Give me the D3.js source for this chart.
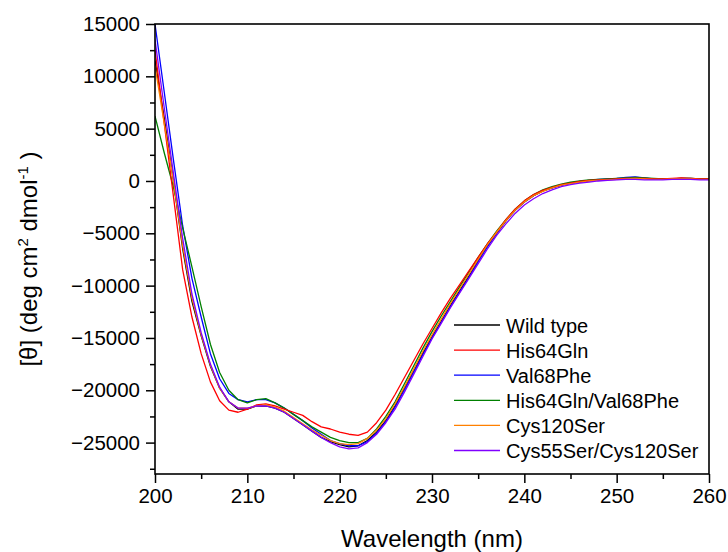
<!DOCTYPE html>
<html>
<head>
<meta charset="utf-8">
<script src="https://cdn.jsdelivr.net/npm/d3@7/dist/d3.min.js"></script>
<style>
  html, body { margin: 0; padding: 0; background: #fff; }
  svg { display: block; font-family: "Liberation Sans", Arial, sans-serif; }
</style>
</head>
<body>
<svg id="chart" width="728" height="552"></svg>
<script>
const wavelengths = [200,201,202,203,204,205,206,207,208,209,210,211,212,213,214,215,216,217,218,219,220,221,222,223,224,225,226,227,228,229,230,231,232,233,234,235,236,237,238,239,240,241,242,243,244,245,246,247,248,249,250,251,252,253,254,255,256,257,258,259,260];

const wildType = [11500,6000,0,-6500,-11500,-14800,-17700,-19800,-21100,-21800,-21800,-21500,-21500,-21700,-22100,-22700,-23300,-23900,-24500,-24900,-25200,-25400,-25300,-24800,-24000,-22900,-21500,-19800,-18200,-16500,-14900,-13400,-11900,-10500,-9100,-7600,-6200,-5000,-3800,-2800,-2000,-1400,-950,-650,-400,-200,-100,0,100,150,200,250,300,250,200,200,200,250,250,200,200];

const his64Gln = [12500,5500,-1500,-8500,-13000,-16500,-19200,-21000,-21900,-22100,-21800,-21400,-21300,-21500,-21800,-22100,-22400,-23000,-23500,-23700,-24000,-24200,-24300,-24000,-23100,-21900,-20400,-18800,-17200,-15600,-14100,-12600,-11200,-9900,-8600,-7300,-6000,-4900,-3700,-2700,-1900,-1300,-900,-600,-350,-200,-50,50,100,150,200,250,250,250,200,200,250,300,250,200,200];

const val68Phe = [15000,8500,2000,-4300,-9300,-13000,-16500,-18900,-20300,-20900,-21100,-20900,-20900,-21200,-21700,-22300,-22900,-23600,-24200,-24800,-25100,-25300,-25300,-24900,-24100,-23000,-21600,-20000,-18300,-16600,-15000,-13500,-12000,-10600,-9200,-7700,-6300,-5000,-3800,-2800,-2000,-1400,-950,-650,-400,-200,-50,50,150,200,250,350,400,300,200,150,200,200,200,150,150];

const his64GlnVal68Phe = [6200,2700,-600,-4500,-8200,-12000,-15600,-18300,-20000,-20900,-21200,-20900,-20800,-21200,-21700,-22300,-22900,-23500,-24000,-24500,-24800,-25000,-25000,-24600,-23700,-22500,-21100,-19400,-17700,-16000,-14400,-12900,-11500,-10100,-8700,-7300,-6000,-4800,-3700,-2700,-1900,-1300,-850,-550,-300,-100,0,100,150,200,250,300,350,300,250,200,200,250,250,200,200];

const cys120Ser = [11000,5500,0,-6200,-11200,-14700,-17600,-19800,-21100,-21700,-21700,-21500,-21400,-21600,-22000,-22600,-23200,-23800,-24300,-24800,-25100,-25200,-25100,-24600,-23800,-22700,-21300,-19700,-18000,-16300,-14700,-13200,-11700,-10300,-8900,-7500,-6100,-4900,-3800,-2800,-2000,-1400,-1000,-650,-400,-250,-100,0,50,100,150,200,250,200,150,150,200,200,200,150,150];

const cys55SerCys120Ser = [13500,7000,700,-5500,-10800,-14500,-17500,-19700,-21100,-21700,-21700,-21500,-21500,-21700,-22100,-22700,-23300,-23900,-24500,-25000,-25400,-25600,-25500,-25000,-24200,-23100,-21800,-20200,-18500,-16800,-15100,-13600,-12100,-10700,-9300,-7900,-6500,-5200,-4100,-3100,-2300,-1700,-1200,-850,-550,-350,-200,-100,0,50,100,150,150,100,100,100,150,150,150,100,100];

const seriesNames = ["Wild type","His64Gln","Val68Phe","His64Gln/Val68Phe","Cys120Ser","Cys55Ser/Cys120Ser"];
const seriesColors = ["#000000","#ff0000","#0000ff","#008000","#ff8000","#8000ff"];
const seriesValues = [wildType, his64Gln, val68Phe, his64GlnVal68Phe, cys120Ser, cys55SerCys120Ser];

const xTicks = [200,210,220,230,240,250,260];
const xMinorTicks = [205,215,225,235,245,255];
const yTicks = [-25000,-20000,-15000,-10000,-5000,0,5000,10000,15000];
const yMinorTicks = [-27500,-22500,-17500,-12500,-7500,-2500,2500,7500,12500];

const svg = d3.select("#chart");
const L = 155, R = 709, T = 24, B = 474;

const x = d3.scaleLinear().domain([200, 260]).range([L, R]);
const y = d3.scaleLinear().domain([-28000, 15000]).range([B, T]);

svg.append("defs").append("clipPath").attr("id", "clip")
  .append("rect").attr("x", L).attr("y", T - 1).attr("width", R - L).attr("height", B - T + 1);

const drawOrder = [0, 2, 3, 1, 4, 5];
const line = d3.line().x((d, i) => x(wavelengths[i])).y(d => y(d));
const g = svg.append("g").attr("clip-path", "url(#clip)");
drawOrder.forEach(k => {
  g.append("path")
    .datum(seriesValues[k])
    .attr("d", line)
    .attr("fill", "none")
    .attr("stroke", seriesColors[k])
    .attr("stroke-width", 1.3)
    .attr("stroke-linejoin", "round");
});

const fontTick = "20.5px";
const xAxis = svg.append("g").attr("transform", `translate(0,${B})`)
  .call(d3.axisBottom(x).tickValues(xTicks).tickSize(9).tickPadding(5).tickFormat(d3.format("d")));
const xMinor = svg.append("g").attr("transform", `translate(0,${B})`)
  .call(d3.axisBottom(x).tickValues(xMinorTicks).tickSize(5).tickFormat(""));
const yAxis = svg.append("g").attr("transform", `translate(${L},0)`)
  .call(d3.axisLeft(y).tickValues(yTicks).tickSize(9).tickPadding(6).tickFormat(d3.format("d")));
const yMinor = svg.append("g").attr("transform", `translate(${L},0)`)
  .call(d3.axisLeft(y).tickValues(yMinorTicks).tickSize(5).tickFormat(""));

[xAxis, xMinor, yAxis, yMinor].forEach(a => {
  a.select(".domain").remove();
  a.selectAll(".tick line").attr("stroke", "#000").attr("stroke-width", 1.5);
  a.selectAll(".tick text").attr("fill", "#000")
    .style("font-size", fontTick)
    .style("font-family", '"Liberation Sans", Arial, sans-serif');
});
xAxis.selectAll(".tick text").attr("dy", "0.71em");

svg.append("rect").attr("x", L).attr("y", T).attr("width", R - L).attr("height", B - T)
  .attr("fill", "none").attr("stroke", "#000").attr("stroke-width", 1.6);

svg.append("text").attr("x", (L + R) / 2).attr("y", 547)
  .attr("text-anchor", "middle").style("font-size", "24px").text("Wavelength (nm)");

const yt = svg.append("text")
  .attr("transform", "translate(37,259) rotate(-90)")
  .attr("text-anchor", "middle").style("font-size", "24px");
yt.append("tspan").text("[θ] (deg cm");
yt.append("tspan").attr("dy", "-9").style("font-size", "15px").text("2");
yt.append("tspan").attr("dy", "9").text(" dmol");
yt.append("tspan").attr("dy", "-9").style("font-size", "15px").text("-1");
yt.append("tspan").attr("dy", "9").text(" )");

const legY0 = 325, legDy = 25.1;
seriesNames.forEach((name, i) => {
  const yy = legY0 + i * legDy;
  svg.append("line").attr("x1", 454).attr("x2", 500).attr("y1", yy).attr("y2", yy)
    .attr("stroke", seriesColors[i]).attr("stroke-width", 1.3);
  svg.append("text").attr("x", 506).attr("y", yy + 7.5)
    .style("font-size", "20px").text(name);
});
</script>
</body>
</html>
